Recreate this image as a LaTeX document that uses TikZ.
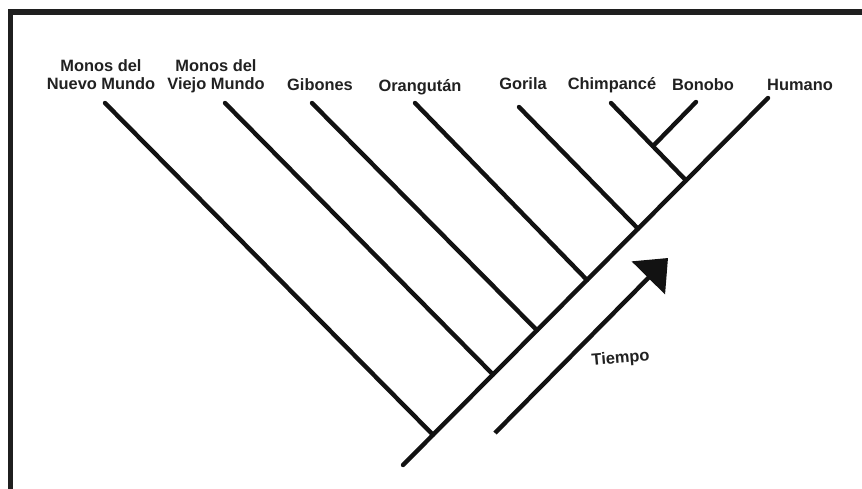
\documentclass[tikz,border=0pt]{standalone}
\usepackage{fontspec}
\setmainfont{Liberation Sans}
\usetikzlibrary{arrows.meta}
\begin{document}
\begin{tikzpicture}[x=1pt,y=-1pt,
  branch/.style={line width=4.4pt,line cap=round,draw=black!93},
  frame/.style={line width=5.5pt,draw=black!88},
  lbl/.style={font=\fontsize{16.4}{18}\selectfont\bfseries,text=black!87,inner sep=0pt,anchor=base,align=center}]
\useasboundingbox (0,0) rectangle (862,488);
\fill[white] (0,0) rectangle (862,488);
% frame (top and left only)
\draw[frame] (10.3,490) -- (10.3,12) -- (870,12);
% tips
\coordinate (tNM) at (105,103);
\coordinate (tVM) at (225,103);
\coordinate (tGi) at (312,103);
\coordinate (tOr) at (415,103);
\coordinate (tGo) at (519,107);
\coordinate (tCh) at (611,103);
\coordinate (tBo) at (696,102);
\coordinate (tHu) at (768,98);
% root and junctions
\coordinate (root) at (403,465);
\coordinate (j1) at (433,434.8);
\coordinate (j2) at (493,374.5);
\coordinate (j3) at (537,330.3);
\coordinate (j4) at (587,280.0);
\coordinate (j5) at (638,228.7);
\coordinate (j6) at (686,180.4);
\coordinate (jCB) at (653,146.1);
% trunk and branches
\draw[branch] (root) -- (tHu);
\draw[branch] (tNM) -- (j1);
\draw[branch] (tVM) -- (j2);
\draw[branch] (tGi) -- (j3);
\draw[branch] (tOr) -- (j4);
\draw[branch] (tGo) -- (j5);
\draw[branch] (tCh) -- (j6);
\draw[branch] (tBo) -- (jCB);
% labels
\node[lbl] (lNM) at (101,89) {Monos del\\Nuevo Mundo};
\node[lbl] (lVM) at (216,89) {Monos del\\Viejo Mundo};
\node[lbl] (lGi) at (320,90) {Gibones};
\node[lbl] (lOr) at (420,91) {Orangután};
\node[lbl] (lGo) at (523,89) {Gorila};
\node[lbl] (lCh) at (612,89) {Chimpancé};
\node[lbl] (lBo) at (703,90.5) {Bonobo};
\node[lbl] (lHu) at (800,90.5) {Humano};
% time arrow
\coordinate (aS) at (495,433);
\coordinate (aE) at (668,258);
\draw[line width=4.4pt,draw=black!93,-{Triangle[length=28pt,width=46pt]}] (aS) -- (aE);
\node[lbl,rotate=5] (lTi) at (621,363) {Tiempo};
\end{tikzpicture}
\end{document}
